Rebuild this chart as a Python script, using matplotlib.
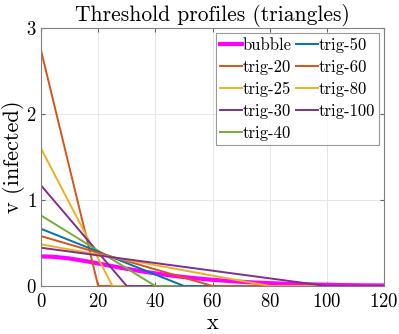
import matplotlib
matplotlib.use("Agg")
import matplotlib.pyplot as plt
import numpy as np

plt.rcParams['font.family'] = 'serif'
plt.rcParams['font.serif'] = ['cmr10']
plt.rcParams['axes.formatter.use_mathtext'] = True
plt.rcParams['mathtext.fontset'] = 'cm'

# bubble profile
bubble_x = [0, 5, 10, 15, 20, 25, 30, 35, 40, 45, 50, 55, 60, 65, 70, 75, 80,
            85, 90, 95, 100, 105, 110, 115, 120]
bubble_v = [0.345, 0.338, 0.320, 0.293, 0.262, 0.230, 0.200, 0.172, 0.147,
            0.124, 0.104, 0.087, 0.072, 0.060, 0.049, 0.040, 0.033, 0.027,
            0.022, 0.018, 0.014, 0.011, 0.009, 0.007, 0.006]

# triangle profiles: base width and peak height
trig_width = [20, 25, 30, 40, 50, 60, 80, 100]
trig_height = [2.74, 1.60, 1.17, 0.82, 0.665, 0.58, 0.485, 0.445]

matlab = {
    'blue': (0.0, 0.447, 0.741),
    'orange': (0.850, 0.325, 0.098),
    'yellow': (0.929, 0.694, 0.125),
    'purple': (0.494, 0.184, 0.556),
    'green': (0.466, 0.674, 0.188),
}
trig_colors = ['orange', 'yellow', 'purple', 'green', 'blue', 'orange', 'yellow', 'purple']

fig = plt.figure(figsize=(3.99, 3.34), dpi=100)
ax = fig.add_axes([0.1028, 0.1437, 0.8596, 0.7725])

ax.plot(bubble_x, bubble_v, color=(1, 0, 1), lw=3.0, label='bubble')
for L, h, c in zip(trig_width, trig_height, trig_colors):
    ax.plot([0, L, 120], [h, 0, 0], color=matlab[c], lw=1.4, label='trig-%d' % L)

ax.set_xlim(0, 120)
ax.set_ylim(0, 3)
ax.set_xticks(np.arange(0, 121, 20))
ax.set_yticks([0, 1, 2, 3])
ax.grid(True, color=(0.9, 0.9, 0.9), lw=0.7)
ax.set_axisbelow(True)
ax.tick_params(direction='in', labelsize=13.5, length=3, color=(0.4, 0.4, 0.4),
               top=True, right=True, pad=5)
ax.tick_params(axis='y', pad=3)
for s in ax.spines.values():
    s.set_color((0.5, 0.5, 0.5))
    s.set_linewidth(0.8)

ax.set_title('Threshold profiles (triangles)', fontsize=15.5, pad=5)
ax.set_xlabel('x', fontsize=16, labelpad=2)
ax.set_ylabel('v (infected)', fontsize=16, labelpad=1)

leg = ax.legend(ncol=2, loc='upper right', fontsize=12, handlelength=1.3,
                handletextpad=0.05, columnspacing=0.25, labelspacing=0.4,
                borderpad=0.25, borderaxespad=0.0, fancybox=False,
                bbox_to_anchor=(0.986, 0.979))
leg.get_frame().set_edgecolor((0.5, 0.5, 0.5))
leg.get_frame().set_linewidth(0.8)

fig.savefig('out.png', dpi=100)
